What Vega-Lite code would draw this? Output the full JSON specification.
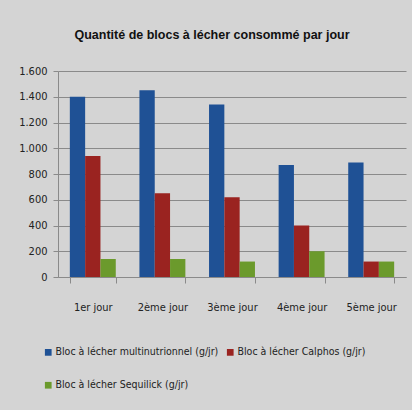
{
  "$schema": "https://vega.github.io/schema/vega-lite/v6.json",
  "autosize": {"type": "none"},
  "width": 348,
  "height": 206,
  "padding": {"left": 58, "top": 71, "right": 6, "bottom": 133},
  "background": "#d4d4d4",
  "title": {
    "text": "Quantité de blocs à lécher consommé par jour",
    "font": "Liberation Sans",
    "fontSize": 12.5,
    "fontWeight": "bold",
    "color": "#111111",
    "anchor": "middle",
    "dx": -20,
    "offset": 24
  },
  "data": {
    "values": [
      {"jour": "1er jour", "serie": "Bloc à lécher multinutrionnel (g/jr)", "valeur": 1400},
      {"jour": "1er jour", "serie": "Bloc  à lécher Calphos (g/jr)", "valeur": 940},
      {"jour": "1er jour", "serie": "Bloc à lécher Sequilick (g/jr)", "valeur": 140},
      {"jour": "2ème jour", "serie": "Bloc à lécher multinutrionnel (g/jr)", "valeur": 1450},
      {"jour": "2ème jour", "serie": "Bloc  à lécher Calphos (g/jr)", "valeur": 650},
      {"jour": "2ème jour", "serie": "Bloc à lécher Sequilick (g/jr)", "valeur": 140},
      {"jour": "3ème jour", "serie": "Bloc à lécher multinutrionnel (g/jr)", "valeur": 1340},
      {"jour": "3ème jour", "serie": "Bloc  à lécher Calphos (g/jr)", "valeur": 620},
      {"jour": "3ème jour", "serie": "Bloc à lécher Sequilick (g/jr)", "valeur": 120},
      {"jour": "4ème jour", "serie": "Bloc à lécher multinutrionnel (g/jr)", "valeur": 870},
      {"jour": "4ème jour", "serie": "Bloc  à lécher Calphos (g/jr)", "valeur": 400},
      {"jour": "4ème jour", "serie": "Bloc à lécher Sequilick (g/jr)", "valeur": 200},
      {"jour": "5ème jour", "serie": "Bloc à lécher multinutrionnel (g/jr)", "valeur": 890},
      {"jour": "5ème jour", "serie": "Bloc  à lécher Calphos (g/jr)", "valeur": 120},
      {"jour": "5ème jour", "serie": "Bloc à lécher Sequilick (g/jr)", "valeur": 120}
    ]
  },
  "mark": {"type": "bar"},
  "encoding": {
    "x": {
      "field": "jour",
      "type": "nominal",
      "sort": null,
      "title": null,
      "scale": {"paddingInner": 0.34, "paddingOuter": 0.17},
      "axis": {
        "labelAngle": 0,
        "tickBand": "extent",
        "tickSize": 6,
        "labelPadding": 18,
        "domainColor": "#8a8a8a",
        "tickColor": "#8a8a8a",
        "labelFont": "DejaVu Sans Condensed",
        "labelFontSize": 11,
        "labelColor": "#222222"
      }
    },
    "xOffset": {
      "field": "serie",
      "type": "nominal",
      "sort": null,
      "scale": {"paddingInner": 0, "paddingOuter": 0}
    },
    "y": {
      "field": "valeur",
      "type": "quantitative",
      "title": null,
      "scale": {"domain": [0, 1600]},
      "axis": {
        "values": [0, 200, 400, 600, 800, 1000, 1200, 1400, 1600],
        "labelExpr": "replace(format(datum.value, ','), ',', '.')",
        "grid": true,
        "gridColor": "#8a8a8a",
        "domainColor": "#8a8a8a",
        "tickColor": "#8a8a8a",
        "tickSize": 5,
        "labelPadding": 6,
        "labelFont": "DejaVu Sans Condensed",
        "labelFontSize": 11,
        "labelColor": "#222222"
      }
    },
    "color": {
      "field": "serie",
      "type": "nominal",
      "sort": null,
      "title": null,
      "scale": {
        "domain": ["Bloc à lécher multinutrionnel (g/jr)", "Bloc  à lécher Calphos (g/jr)", "Bloc à lécher Sequilick (g/jr)"],
        "range": ["#1f5195", "#9a2320", "#6b9a2c"]
      },
      "legend": {
        "orient": "none",
        "legendX": -15,
        "legendY": 276,
        "direction": "horizontal",
        "columns": 2,
        "columnPadding": 6,
        "rowPadding": 22,
        "symbolType": "square",
        "symbolSize": 45,
        "symbolStrokeWidth": 0,
        "labelOffset": 2,
        "labelFont": "DejaVu Sans Condensed",
        "labelFontSize": 10.5,
        "labelColor": "#222222",
        "labelLimit": 400
      }
    }
  },
  "config": {
    "view": {"stroke": null}
  }
}
